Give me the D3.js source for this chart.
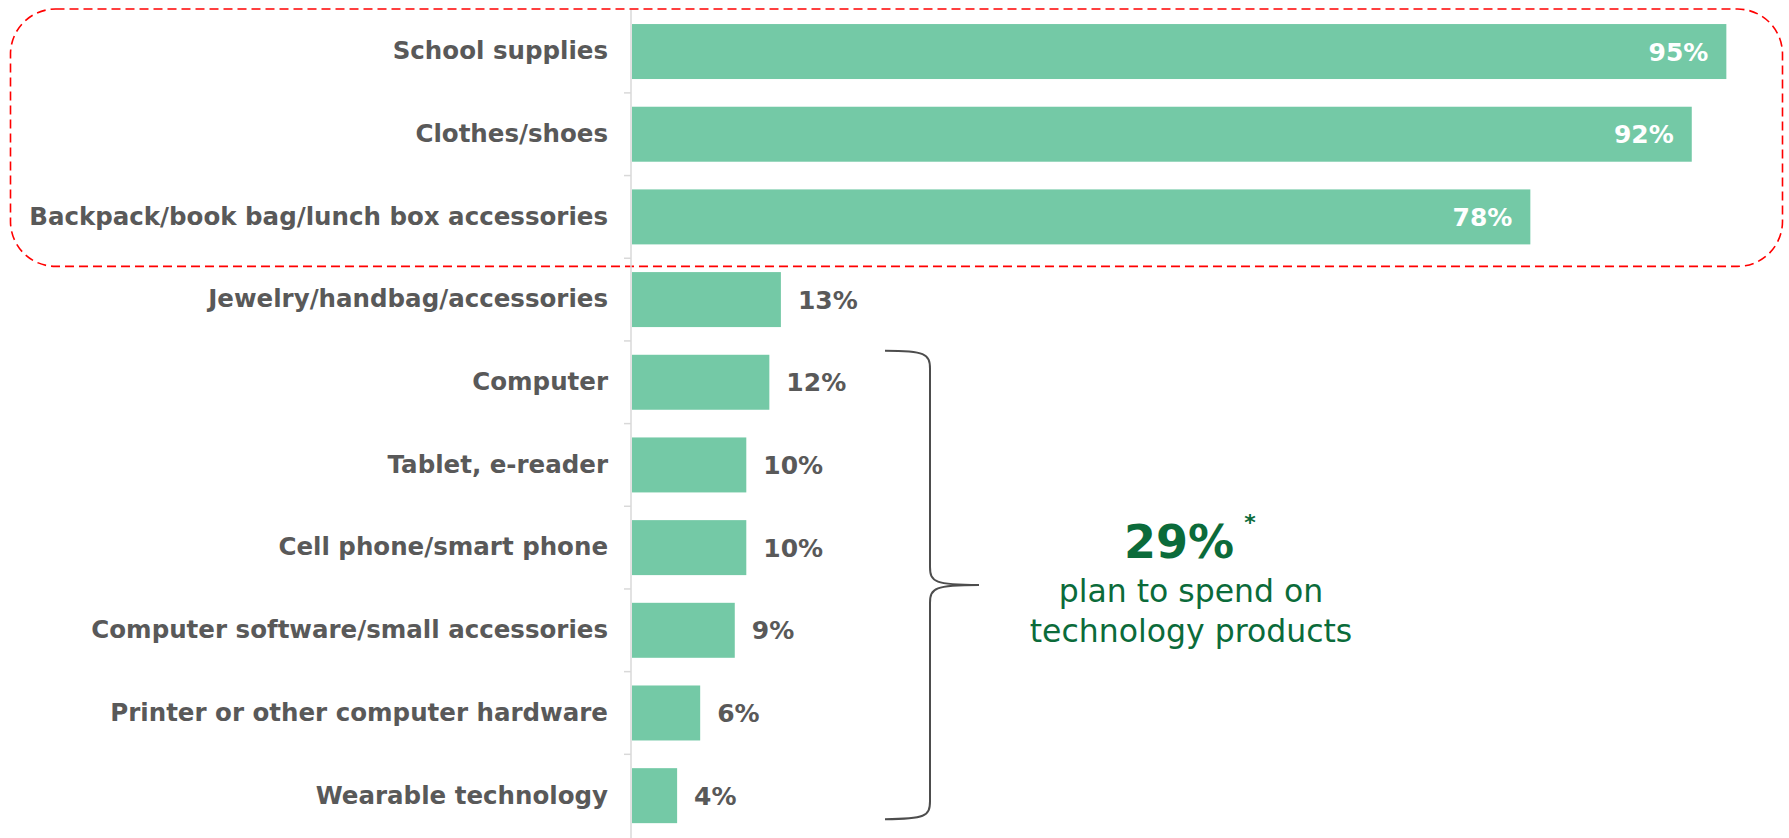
<!DOCTYPE html>
<html>
<head>
<meta charset="utf-8">
<script src="https://cdn.jsdelivr.net/npm/d3@7"></script>
<style>
  html, body { margin: 0; padding: 0; background: #fff; }
  svg { display: block; }
</style>
</head>
<body>
<svg id="chart" width="1789" height="838"></svg>
<script>
// ---- data ----
const categories = [
  "School supplies",
  "Clothes/shoes",
  "Backpack/book bag/lunch box accessories",
  "Jewelry/handbag/accessories",
  "Computer",
  "Tablet, e-reader",
  "Cell phone/smart phone",
  "Computer software/small accessories",
  "Printer or other computer hardware",
  "Wearable technology"
];
const values = [95, 92, 78, 13, 12, 10, 10, 9, 6, 4];
const insideLabelCount = 3;           // first three bars carry labels inside
const techCategories = categories.slice(4); // bracketed technology items
const techTotalLabel = "29%";
const techFootMark = "*";
const techText = ["plan to spend on", "technology products"];

// ---- layout ----
const svg = d3.select("#chart");
const axisX = 631;
const x = d3.scaleLinear().domain([0, 100]).range([axisX, axisX + 1153]);
const y = d3.scaleBand().domain(categories).range([10.2, 837])
  .paddingInner(0.335).paddingOuter(0.1675);

const barColor = "#74c9a6";
const textGrey = "#595959";
const green = "#0b6b3a";
const font = "'DejaVu Sans', Verdana, sans-serif";

// red dashed rounded frame around top 3
const top3 = categories.slice(0, 3);
const frameTop = y(top3[0]) - 15;
const frameBottom = y(top3[2]) + y.bandwidth() + 22;
svg.append("rect")
  .attr("x", 10.5).attr("y", frameTop)
  .attr("width", 1772).attr("height", frameBottom - frameTop)
  .attr("rx", 45).attr("ry", 45)
  .attr("fill", "none")
  .attr("stroke", "#ff0000")
  .attr("stroke-width", 1.6)
  .attr("stroke-dasharray", "9,5");

// axis line
const step = y.step();
const bandStart = y(categories[0]) - (step - y.bandwidth()) / 2;
svg.append("line")
  .attr("x1", axisX).attr("x2", axisX)
  .attr("y1", 10).attr("y2", 838)
  .attr("stroke", "#d9d9d9").attr("stroke-width", 1.5);

// tick marks between categories
const boundaries = d3.range(1, categories.length).map(i => bandStart + i * step);
svg.selectAll(".tick-mark").data(boundaries).join("line")
  .attr("class", "tick-mark")
  .attr("x1", axisX - 7).attr("x2", axisX)
  .attr("y1", d => d).attr("y2", d => d)
  .attr("stroke", "#d9d9d9").attr("stroke-width", 1.5);

// category labels via axis
const yAxis = d3.axisLeft(y).tickSize(0).tickPadding(23);
const gAxis = svg.append("g").attr("transform", `translate(${axisX},0)`).call(yAxis);
gAxis.select(".domain").remove();
gAxis.selectAll("text")
  .attr("font-family", font)
  .attr("font-weight", "bold")
  .attr("font-size", 24.5)
  .attr("fill", textGrey);

// bars
svg.selectAll(".bar").data(categories).join("rect")
  .attr("class", "bar")
  .attr("x", x(0) + 1)
  .attr("y", d => y(d))
  .attr("width", (d, i) => x(values[i]) - x(0) - 1)
  .attr("height", y.bandwidth())
  .attr("fill", barColor);

// value labels
svg.selectAll(".val").data(categories).join("text")
  .attr("class", "val")
  .attr("x", (d, i) => i < insideLabelCount ? x(values[i]) - 18 : x(values[i]) + 17)
  .attr("y", d => y(d) + y.bandwidth() / 2)
  .attr("dy", "0.36em")
  .attr("text-anchor", (d, i) => i < insideLabelCount ? "end" : "start")
  .attr("font-family", font)
  .attr("font-weight", "bold")
  .attr("font-size", 25)
  .attr("fill", (d, i) => i < insideLabelCount ? "#ffffff" : textGrey)
  .text((d, i) => values[i] + "%");

// curly brace for technology items
const bTop = y(techCategories[0]) - 4;
const bBot = y(techCategories[techCategories.length - 1]) + y.bandwidth() - 4;
const bMid = (bTop + bBot) / 2;
const xl = 885, xv = 930, xm = 979;
const r = 18;
const brace = d3.path();
brace.moveTo(xl, bTop);
brace.bezierCurveTo(xv - 5, bTop, xv, bTop + 3, xv, bTop + r);
brace.lineTo(xv, bMid - r);
brace.bezierCurveTo(xv, bMid - 3, xv + 5, bMid, xm, bMid);
brace.moveTo(xm, bMid);
brace.bezierCurveTo(xv + 5, bMid, xv, bMid + 3, xv, bMid + r);
brace.lineTo(xv, bBot - r);
brace.bezierCurveTo(xv, bBot - 3, xv - 5, bBot, xl, bBot);
svg.append("path")
  .attr("d", brace.toString())
  .attr("fill", "none")
  .attr("stroke", "#4d4d4d")
  .attr("stroke-width", 2);

// annotation text
const cx = 1191;
svg.append("text")
  .attr("x", 1179).attr("y", 558)
  .attr("text-anchor", "middle")
  .attr("font-family", font)
  .attr("font-weight", "bold")
  .attr("font-size", 46)
  .attr("fill", green)
  .text(techTotalLabel);
svg.append("text")
  .attr("x", 1250).attr("y", 530)
  .attr("text-anchor", "middle")
  .attr("font-family", font)
  .attr("font-weight", "bold")
  .attr("font-size", 22)
  .attr("fill", green)
  .text(techFootMark);
svg.selectAll(".note").data(techText).join("text")
  .attr("class", "note")
  .attr("x", cx)
  .attr("y", (d, i) => 602 + i * 40)
  .attr("text-anchor", "middle")
  .attr("font-family", font)
  .attr("font-size", 31.5)
  .attr("fill", green)
  .text(d => d);
</script>
</body>
</html>
